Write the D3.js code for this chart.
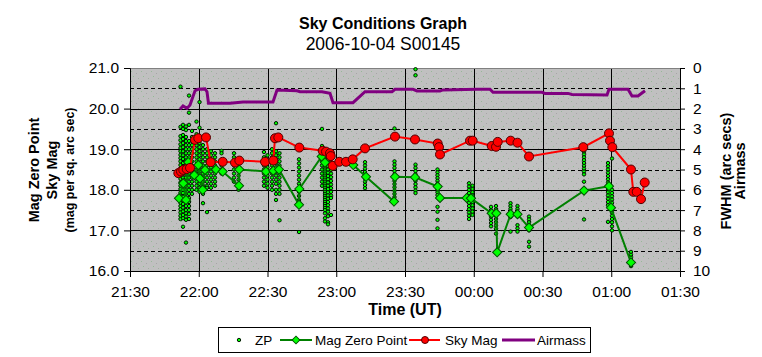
<!DOCTYPE html>
<html><head><meta charset="utf-8">
<script src="https://cdn.jsdelivr.net/npm/d3@7/dist/d3.min.js"></script>
<style>
html,body{margin:0;padding:0;background:#fff;}
svg{display:block;font-family:"Liberation Sans",Arial,sans-serif;}
</style></head>
<body><svg id="chart" width="762" height="357"></svg>
<script>
// ---------------- DATA ----------------
const titleText = "Sky Conditions Graph";
const subtitleText = "2006-10-04 S00145";
const leftTicks = [16, 17, 18, 19, 20, 21];
const rightTicks = [0,1,2,3,4,5,6,7,8,9,10];
const xTickLabels = ["21:30","22:00","22:30","23:00","23:30","00:00","00:30","01:00","01:30"];

// Airmass (right axis)
const airmassTimes = ["21:51:49","21:53:08","21:54:52","21:56:11","21:58:22","21:59:40","22:02:44","22:03:36","22:04:15","22:13:38","22:19:19","22:32:24","22:34:09","22:42:52","22:44:11","22:53:47","22:57:16","22:58:35","23:07:19","23:12:33","23:24:20","23:25:38","23:33:29","23:35:14","23:45:16","23:46:35","00:01:25","00:07:05","00:08:24","00:29:47","00:31:05","00:41:08","00:42:52","00:58:09","00:59:01","01:07:19","01:09:03","01:11:40","01:14:44"];
const airmassValues = [2.03,1.87,1.99,1.82,1.12,1.05,1.03,1.17,1.74,1.74,1.67,1.67,1.08,1.12,1.17,1.17,1.25,1.71,1.71,1.17,1.17,1.05,1.05,1.13,1.13,1.08,1.05,1.05,1.2,1.2,1.25,1.25,1.3,1.33,1.05,1.05,1.38,1.38,1.12];

// Sky Mag
const skyTimes = ["21:51:05","21:52:15","21:53:16","21:54:44","21:56:11","21:58:22","21:59:48","22:03:10","22:05:13","22:10:27","22:15:49","22:17:42","22:28:55","22:32:32","22:33:16","22:34:43","22:43:53","22:54:05","22:55:32","22:57:16","22:57:35","22:58:27","23:01:20","23:04:15","23:07:11","23:12:33","23:25:38","23:34:22","23:44:16","23:44:50","23:45:16","23:58:22","23:59:32","00:07:50","00:09:43","00:10:27","00:16:07","00:19:05","00:24:07","00:47:48","00:59:01","00:59:27","01:00:28","01:08:37","01:09:37","01:11:06","01:12:59","01:14:36"];
const skyValues = [18.41,18.45,18.49,18.51,18.54,19.23,19.27,19.29,18.68,18.69,18.67,18.72,18.69,18.72,19.27,19.29,19.04,18.96,18.94,18.9,18.83,18.59,18.69,18.69,18.75,19.02,19.31,19.24,19.14,19.05,18.87,19.21,19.21,19.08,19.06,19.18,19.21,19.16,18.82,19.05,19.39,19.21,19.05,18.5,17.95,17.95,17.77,18.18];

// Mag Zero Point
const mzpTimes = ["21:51:23","21:53:16","21:54:26","21:55:26","21:58:04","21:59:48","22:00:33","22:01:43","22:02:44","22:07:32","22:10:27","22:17:34","22:17:42","22:29:21","22:32:32","22:35:01","22:43:45","22:43:53","22:53:39","22:55:05","23:07:26","23:12:59","23:25:12","23:25:38","23:34:22","23:44:16","23:45:16","23:56:55","23:58:48","00:07:50","00:09:51","00:10:13","00:16:07","00:19:05","00:24:07","00:48:07","00:59:01","00:59:53","01:08:37"];
const mzpValues = [17.79,18.16,17.75,18.68,18.36,18.61,18.28,18.0,18.49,18.5,18.45,18.1,18.5,18.45,18.47,18.5,17.63,18.02,18.82,18.67,18.61,18.32,17.71,18.32,18.31,18.08,17.8,17.8,17.79,17.42,17.42,16.46,17.4,17.4,17.07,17.98,18.09,17.56,16.21];

// ZP individual measurements, grouped by time column
const zpTimes = ["21:52:02","21:53:08","21:54:26","21:55:45","21:57:03","21:59:01","22:00:20","22:01:51","22:03:36","22:05:21","22:07:05","22:09:56","22:15:23","22:17:21","22:28:28","22:30:00","22:31:58","22:33:43","22:35:14","22:43:45","22:53:47","22:55:05","22:56:24","22:57:43","23:12:33","23:25:25","23:34:35","23:44:11","23:57:56","23:59:27","00:07:32","00:09:43","00:16:02","00:19:05","00:24:07","00:48:07","00:58:35","01:00:20","01:08:37"];
const zpValues = [
 [20.54,19.55,19.32,19.22,19.12,19.03,18.95,18.86,18.78,18.7,18.61,18.52,18.44,18.35,18.27,18.18,18.1,18.02,17.93,17.85,17.77,17.68,17.6,17.52,17.44,17.36,17.28],
 [19.6,19.5,19.35,19.25,19.15,19.05,18.95,18.85,18.76,18.66,18.57,18.47,18.38,18.3,18.2,18.1,18.0,17.92,17.83,17.74,17.65,17.56,17.47,17.38,17.3,17.09],
 [19.56,19.47,19.3,19.2,19.1,19.0,18.9,18.8,18.7,18.6,18.5,18.4,18.3,18.2,18.1,18.0,17.9,17.8,17.7,17.6,17.5,17.42,17.34,17.26,16.7],
 [20.32,19.9,19.6,19.2,19.1,19.0,18.9,18.8,18.7,18.6,18.5,18.4,18.3,18.2,18.1,18.0,17.9,17.8,17.7,17.6,17.5,17.4,17.28],
 [19.45,19.3,19.2,19.1,19.0,18.9,18.8,18.7,18.6,18.5,18.4,18.3,18.2,18.1,18.0,17.9],
 [19.68,19.37,19.2,19.1,19.0,18.9,18.8,18.7,18.6,18.5,18.4,18.3,18.2,18.1,18.0],
 [20.16,19.53,19.25,19.15,19.05,18.95,18.85,18.75,18.65,18.55,18.45,18.35,18.25,18.15,18.05,17.95],
 [19.1,19.0,18.9,18.8,18.7,18.6,18.5,18.4,18.3,18.2,18.1,18.0,17.9,17.67],
 [19.0,18.9,18.8,18.7,18.6,18.5,18.4,18.3,18.2,18.1,18.05,17.45],
 [18.95,18.85,18.75,18.65,18.55,18.45,18.35,18.25,18.15,18.05],
 [18.9,18.8,18.7,18.6,18.5,18.4,18.3,18.2,18.1],
 [18.96,18.9,18.6,18.5,18.4],
 [18.9,18.8,18.7,18.6,18.5,18.4,18.3,18.2],
 [18.75,18.65,18.55,18.45,18.35,18.25,18.1,18.0],
 [18.93,18.8,18.7,18.6,18.5,18.4,18.3,18.2,18.1],
 [18.85,18.75,18.65,18.55,18.45,18.35,18.25,18.15,18.05],
 [19.0,18.9,18.8,18.7,18.6,18.5,18.4,18.3,18.2,18.1,18.0],
 [19.64,18.95,18.85,18.75,18.65,18.55,18.45,18.35,18.25,18.15,18.0,17.9,17.75],
 [18.9,18.8,18.7,18.6,18.5,18.4,18.3,18.2,18.1,18.0,17.9,17.25],
 [18.75,18.65,18.55,18.45,18.35,18.25,18.15,18.05,17.95,17.85,17.75,17.65,16.96],
 [19.5,19.08,19.0,18.9,18.8,18.7,18.6,18.5,18.4,18.3,18.2,18.1],
 [18.8,18.75,18.7,18.65,18.6,18.55,18.5,18.45,18.4,18.35,18.3,18.25,18.2,18.15,18.1,18.05,18.0,17.95,17.9,17.85,17.8,17.75,17.7,17.65,17.6,17.55,17.5,17.42,17.3,17.22],
 [18.9,18.82,18.74,18.66,18.58,18.5,18.42,18.34,18.26,18.18,18.1,18.02,17.94,17.86,17.78,17.7,17.62,17.54,17.46,17.35,17.2,17.15],
 [18.85,18.76,18.67,18.58,18.49,18.4,18.31,18.22,18.13,18.04,17.95,17.86,17.8,17.38],
 [18.68,18.6,18.52,18.44,18.36,18.28,18.2,18.12,18.04],
 [19.51,18.7,18.62,18.54,18.46,18.38,18.3,18.22,18.14,18.06,17.98,17.9,17.82,17.74],
 [20.97,20.82,18.62,18.54,18.46,18.38,18.3,18.22,18.14,18.06,17.98,17.92],
 [18.5,18.43,18.36,18.29,18.22,18.15,18.08,18.01,17.94,17.87,17.58,17.46,17.26,17.05],
 [18.16,18.08,18.0,17.92,17.84,17.76,17.68,17.6,17.52,17.44,17.36,17.28],
 [18.1,18.02,17.94,17.86,17.78,17.7,17.62,17.54,17.46,17.38],
 [17.58,17.5,17.42,17.34,17.26,17.18,17.1],
 [17.6,17.52,17.44,17.36,17.28,17.2,17.12,17.04,16.92],
 [17.67,17.6,17.53,17.46,17.39,17.33,16.97],
 [17.6,17.53,17.46,17.4,17.35,17.13,17.05,16.97],
 [17.34,17.27,17.2,17.13,17.06,17.0,16.72,16.6],
 [18.94,18.87,18.8,18.73,18.66,18.59,18.52,18.45,18.38,18.2,17.27],
 [18.66,18.58,18.5,18.42,18.34,18.26,18.18,18.1,18.02,17.94,17.86,17.78,17.7,17.62,17.21],
 [18.77,18.0,17.92,17.84,17.76,17.68,17.6,17.52,17.44,17.36,17.28,17.2,17.1,17.0],
 [16.47,16.4,16.33,16.26,16.18,16.12]
];

const legendLabels = ["ZP","Mag Zero Point","Sky Mag","Airmass"];

// ---------------- DRAWING ----------------
const parseFull = d3.timeParse("%Y-%m-%d %H:%M:%S");
function toDate(s){
  const h = +s.slice(0,2);
  return parseFull((h < 12 ? "2006-10-05 " : "2006-10-04 ") + (s.length === 5 ? s + ":00" : s));
}

const svg = d3.select("#chart");
const L = 130, R = 680, T = 68, B = 271;

const x = d3.scaleTime().domain([toDate("21:30"), toDate("01:30")]).range([L, R]);
const y = d3.scaleLinear().domain([16, 21]).range([B, T]);
const y2 = d3.scaleLinear().domain([0, 10]).range([T, B]);

const defs = svg.append("defs");
const pat = defs.append("pattern").attr("id","bgpat").attr("patternUnits","userSpaceOnUse")
  .attr("width",10).attr("height",10);
pat.append("rect").attr("width",10).attr("height",10).attr("fill","#c0c0c0");
[[1,1,"#98b898"],[6,3,"#a6a6a6"],[3,6,"#8fbf8f"],[8,8,"#a0b0a0"]].forEach(p=>{
  pat.append("rect").attr("x",p[0]).attr("y",p[1]).attr("width",1).attr("height",1).attr("fill",p[2]);
});

svg.append("rect").attr("x",L).attr("y",T).attr("width",R-L).attr("height",B-T).attr("fill","url(#bgpat)");

// gridlines
const g = svg.append("g");
const majorX = d3.timeMinute.every(30).range(toDate("22:00"), toDate("01:30"));
const minorX = d3.timeMinute.every(30).range(toDate("21:45"), toDate("01:30"));
minorX.forEach(d=>{
  g.append("line").attr("x1",Math.round(x(d))+0.5).attr("x2",Math.round(x(d))+0.5).attr("y1",T).attr("y2",B)
    .attr("stroke","#000").attr("stroke-dasharray","4,3");
});
majorX.forEach(d=>{
  g.append("line").attr("x1",Math.round(x(d))+0.5).attr("x2",Math.round(x(d))+0.5).attr("y1",T).attr("y2",B)
    .attr("stroke","#000");
});
[16.5,17.5,18.5,19.5,20.5].forEach(v=>{
  g.append("line").attr("x1",L).attr("x2",R).attr("y1",Math.round(y(v))+0.5).attr("y2",Math.round(y(v))+0.5)
    .attr("stroke","#000").attr("stroke-dasharray","4,3");
});
[17,18,19,20].forEach(v=>{
  g.append("line").attr("x1",L).attr("x2",R).attr("y1",Math.round(y(v))+0.5).attr("y2",Math.round(y(v))+0.5)
    .attr("stroke","#000");
});
// top border
svg.append("line").attr("x1",L).attr("x2",R).attr("y1",T+0.5).attr("y2",T+0.5).attr("stroke","#808080");

// axes
const fontTick = 15.5;
const xAxis = d3.axisBottom(x).tickValues(xTickLabels.map(toDate)).tickFormat(d3.timeFormat("%H:%M")).tickSizeOuter(0).tickSize(6).tickPadding(9);
const gx = svg.append("g").attr("transform",`translate(0,${B})`).call(xAxis);
const yAxis = d3.axisLeft(y).tickValues(leftTicks).tickFormat(d3.format(".1f")).tickSizeOuter(0).tickSize(6).tickPadding(5);
const gy = svg.append("g").attr("transform",`translate(${L},0)`).call(yAxis);
const y2Axis = d3.axisRight(y2).tickValues(rightTicks).tickFormat(d3.format("d")).tickSizeOuter(0).tickSize(5).tickPadding(8);
const gy2 = svg.append("g").attr("transform",`translate(${R},0)`).call(y2Axis);
[gx,gy,gy2].forEach(a=>{
  a.selectAll("text").attr("font-size",fontTick).attr("font-family","Liberation Sans, Arial, sans-serif").attr("fill","#000");
  a.selectAll("path,line").attr("stroke","#000");
});

// ZP scatter
const zpData = [];
zpTimes.forEach((t,i)=>zpValues[i].forEach(v=>zpData.push({t:toDate(t),v:v})));
svg.append("g").selectAll("circle").data(zpData).join("circle")
  .attr("cx",d=>x(d.t)).attr("cy",d=>y(d.v)).attr("r",1.7)
  .attr("fill","#00ff00").attr("stroke","#001800").attr("stroke-width",1);

// Mag Zero Point
const mzp = mzpTimes.map((t,i)=>({t:toDate(t),v:mzpValues[i]}));
const line = d3.line().x(d=>x(d.t)).y(d=>y(d.v));
svg.append("path").datum(mzp).attr("d",line).attr("fill","none").attr("stroke","#008000").attr("stroke-width",2);
svg.append("g").selectAll("path").data(mzp).join("path")
  .attr("d",d3.symbol().type(d3.symbolSquare).size(42))
  .attr("transform",d=>`translate(${x(d.t)},${y(d.v)}) rotate(45)`)
  .attr("fill","#00ff00").attr("stroke","#005000").attr("stroke-width",1);

// Sky Mag
const sky = skyTimes.map((t,i)=>({t:toDate(t),v:skyValues[i]}));
svg.append("path").datum(sky).attr("d",line).attr("fill","none").attr("stroke","#ff0000").attr("stroke-width",2);
svg.append("g").selectAll("circle").data(sky).join("circle")
  .attr("cx",d=>x(d.t)).attr("cy",d=>y(d.v)).attr("r",4.5)
  .attr("fill","#ff0000").attr("stroke","#500000").attr("stroke-width",1);

// Airmass
const air = airmassTimes.map((t,i)=>({t:toDate(t),v:airmassValues[i]}));
svg.append("path").datum(air).attr("d",d3.line().x(d=>x(d.t)).y(d=>y2(d.v)))
  .attr("fill","none").attr("stroke","#800080").attr("stroke-width",3);

// Titles
svg.append("text").attr("x",383).attr("y",29).attr("text-anchor","middle").attr("font-size",16).attr("font-weight","bold").text(titleText);
svg.append("text").attr("x",383).attr("y",50).attr("text-anchor","middle").attr("font-size",17.5).text(subtitleText);
svg.append("text").attr("x",405).attr("y",315).attr("text-anchor","middle").attr("font-size",16).attr("font-weight","bold").text("Time (UT)");

const lt = svg.append("text").attr("transform","translate(39,170) rotate(-90)").attr("text-anchor","middle").attr("font-weight","bold");
lt.append("tspan").attr("x",0).attr("dy",0).attr("font-size",14.5).text("Mag Zero Point");
lt.append("tspan").attr("x",0).attr("dy",18).attr("font-size",14.5).text("Sky Mag");
lt.append("tspan").attr("x",0).attr("dy",17).attr("font-size",12.5).text("(mag per sq. arc sec)");

const rt = svg.append("text").attr("transform","translate(731,171) rotate(-90)").attr("text-anchor","middle").attr("font-weight","bold").attr("font-size",14.5);
rt.append("tspan").attr("x",0).attr("dy",0).text("FWHM (arc secs)");
rt.append("tspan").attr("x",0).attr("dy",14).text("Airmass");

// Legend
const lg = svg.append("g");
lg.append("rect").attr("x",218.5).attr("y",327.5).attr("width",372).attr("height",25).attr("fill","#fff").attr("stroke","#000");
const ly = 340;
lg.append("circle").attr("cx",239).attr("cy",ly).attr("r",1.7).attr("fill","#00ff00").attr("stroke","#001800").attr("stroke-width",1);
lg.append("text").attr("x",255).attr("y",ly+5).attr("font-size",13.5).text(legendLabels[0]);
lg.append("line").attr("x1",280).attr("x2",312).attr("y1",ly).attr("y2",ly).attr("stroke","#008000").attr("stroke-width",2);
lg.append("path").attr("d",d3.symbol().type(d3.symbolSquare).size(30)).attr("transform",`translate(296,${ly}) rotate(45)`).attr("fill","#00ff00").attr("stroke","#005000");
lg.append("text").attr("x",315).attr("y",ly+5).attr("font-size",13.5).text(legendLabels[1]);
lg.append("line").attr("x1",409).attr("x2",440).attr("y1",ly).attr("y2",ly).attr("stroke","#ff0000").attr("stroke-width",2);
lg.append("circle").attr("cx",425).attr("cy",ly).attr("r",3.5).attr("fill","#ff0000").attr("stroke","#500000");
lg.append("text").attr("x",445).attr("y",ly+5).attr("font-size",13.5).text(legendLabels[2]);
lg.append("line").attr("x1",502).attr("x2",535).attr("y1",ly).attr("y2",ly).attr("stroke","#800080").attr("stroke-width",3);
lg.append("text").attr("x",537).attr("y",ly+5).attr("font-size",13.5).text(legendLabels[3]);
</script></body></html>
